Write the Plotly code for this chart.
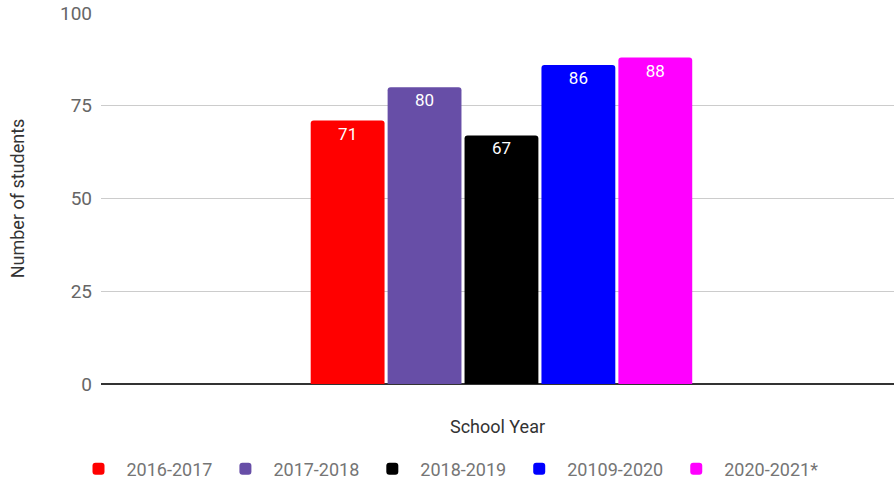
import plotly.graph_objects as go

categories = [""]
series_names = ["2016-2017", "2017-2018", "2018-2019", "20109-2020", "2020-2021*"]
series_values = [71, 80, 67, 86, 88]
series_colors = ["#ff0000", "#674ea7", "#000000", "#0000ff", "#ff00ff"]
y_ticks = [0, 25, 50, 75, 100]

fig = go.Figure()
for name, val, col in zip(series_names, series_values, series_colors):
    fig.add_trace(go.Bar(
        x=categories, y=[val], name=name,
        marker=dict(color=col, line=dict(width=0)),
        text=[str(val)], textposition="inside", insidetextanchor="end",
        textfont=dict(color="white", size=17, family="Roboto"),
        textangle=0,
    ))

fig.update_layout(
    width=894, height=483,
    margin=dict(l=101, r=0, t=13, b=99, autoexpand=False),
    paper_bgcolor="white", plot_bgcolor="white",
    barmode="group", bargap=0.515, bargroupgap=0.04, barcornerradius=3,
    font=dict(family="Roboto", color="#444444", size=17),
    showlegend=True,
    legend=dict(orientation="h", x=0.5, xanchor="center", xref="container",
                y=0.029, yanchor="middle", yref="container",
                font=dict(size=18, color="#757575"), itemwidth=46, traceorder="normal"),
    xaxis=dict(
        type="category", showgrid=False, showticklabels=False, ticks="",
        showline=False, zeroline=False, range=[-0.505, 0.495], automargin=False,
        title=dict(text="School Year", font=dict(size=18, color="#333333"), standoff=36),
    ),
    yaxis=dict(
        range=[0, 100], tickvals=y_ticks, ticktext=[str(t) for t in y_ticks],
        showgrid=True, gridcolor="#cccccc", gridwidth=1, automargin=False,
        zeroline=True, zerolinecolor="#333333", zerolinewidth=2,
        tickfont=dict(size=19, color="#666666"), ticklabelstandoff=8,
        title=dict(text="Number of students", font=dict(size=18, color="#333333"), standoff=30),
    ),
)

fig.write_html("out.html")
